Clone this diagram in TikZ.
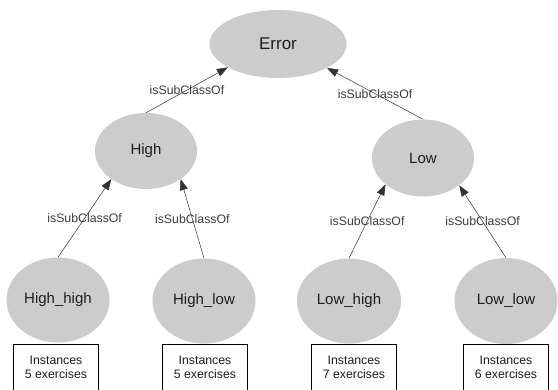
\documentclass[tikz,border=0pt]{standalone}
\usepackage{fontspec}
\setmainfont{Liberation Sans}
\usetikzlibrary{shapes.geometric,arrows.meta}
\definecolor{ellfill}{RGB}{204,204,204}
\definecolor{txt}{RGB}{30,30,30}
\definecolor{lbl}{RGB}{60,60,60}
\definecolor{edgecol}{RGB}{50,50,50}
\begin{document}
\begin{tikzpicture}[x=1pt,y=-1pt,
  cls/.style={ellipse,fill=ellfill,inner sep=0pt,text=txt,font=\fontsize{15}{18}\selectfont},
  instbox/.style={draw=black,line width=0.8pt,minimum width=85pt,minimum height=60pt,anchor=north,inner sep=0pt},
  insttext/.style={align=center,text=txt,inner sep=0pt,font=\fontsize{12.3}{14}\selectfont},
  sub/.style={draw=edgecol,line width=0.5pt,-{Triangle[length=11pt,width=8pt]}},
  lab/.style={text=lbl,inner sep=0pt,font=\fontsize{12.3}{14}\selectfont}]
\useasboundingbox[fill=white] (0,0) rectangle (558,389);

% class nodes
\node[cls,minimum width=137pt,minimum height=68pt,font=\fontsize{17}{20}\selectfont] (error) at (278,44) {Error};
\node[cls,minimum width=102pt,minimum height=76pt] (high) at (146,151) {High};
\node[cls,minimum width=102pt,minimum height=77pt] (low) at (423,158) {Low};
\node[cls,minimum width=103pt,minimum height=85pt] (hh) at (58,300) {High\_high};
\node[cls,minimum width=103pt,minimum height=85pt] (hl) at (204,301) {High\_low};
\node[cls,minimum width=104pt,minimum height=85pt] (lh) at (349,301) {Low\_high};
\node[cls,minimum width=103pt,minimum height=86pt] (ll) at (506,301) {Low\_low};

% edges
\draw[sub] (high.north) -- node[lab,midway] {isSubClassOf} (error.205);
\draw[sub] (low.north) -- node[lab,midway] {isSubClassOf} (error.334);
\draw[sub] (hh.north) -- node[lab,midway] {isSubClassOf} (high.219);
\draw[sub] (hl.north) -- node[lab,midway] {isSubClassOf} (high.321);
\draw[sub] (lh.north) -- node[lab,midway] {isSubClassOf} (low.215);
\draw[sub] (ll.north) -- node[lab,midway] {isSubClassOf} (low.323);

% instance boxes
\node[instbox] (b1) at (56,344) {};
\node[instbox] (b2) at (205,344) {};
\node[instbox] (b3) at (354,344) {};
\node[instbox] (b4) at (506,344) {};
\node[insttext] (t1) at (56,367) {Instances\\5 exercises};
\node[insttext] (t2) at (205,367) {Instances\\5 exercises};
\node[insttext] (t3) at (354,367) {Instances\\7 exercises};
\node[insttext] (t4) at (506,367) {Instances\\6 exercises};
\end{tikzpicture}
\end{document}
